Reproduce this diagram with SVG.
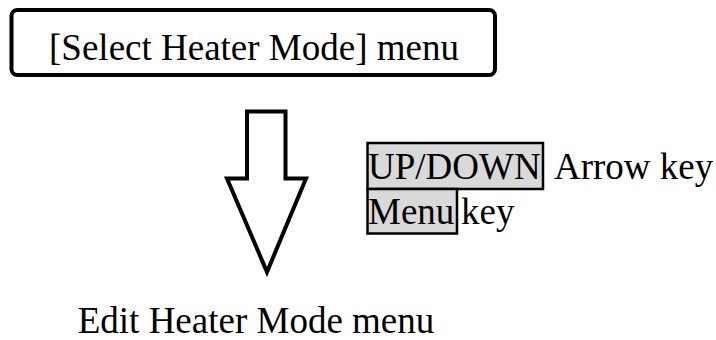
<svg xmlns="http://www.w3.org/2000/svg" width="716" height="340" viewBox="0 0 716 340">
<style>
text{font-family:"Liberation Serif","Times New Roman",serif;font-size:37px;fill:#000}
.key{fill:#d9d9d9;stroke:#000;stroke-width:2.5}
</style>
<rect width="716" height="340" fill="#fff"/>
<g id="node-select">
<rect x="11.5" y="10" width="483.5" height="65" rx="6" fill="#fff" stroke="#000" stroke-width="4"/>
<text x="254" y="60" text-anchor="middle">[Select Heater Mode] menu</text>
</g>
<g id="connectors">
<path d="M247,111.5 H285.5 V178.5 H306 L267,272 L227,178.5 H247 Z" fill="#fff" stroke="#000" stroke-width="4" stroke-linejoin="miter"/>
</g>
<g id="node-keys">
<rect class="key" x="367.5" y="143" width="175.5" height="46"/>
<rect class="key" x="367.5" y="189" width="89.5" height="44.5"/>
<text x="368" y="179">UP/DOWN</text>
<text x="554" y="179">Arrow key</text>
<text x="368" y="224">Menu</text>
<text x="461" y="224">key</text>
</g>
<g id="node-edit">
<text x="256" y="333" text-anchor="middle">Edit Heater Mode menu</text>
</g>
</svg>
